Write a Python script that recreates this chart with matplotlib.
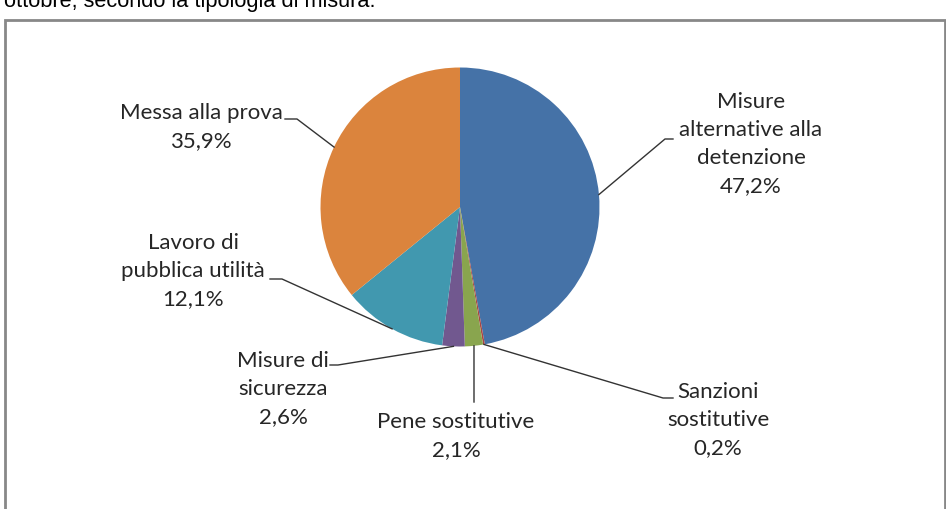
import matplotlib.pyplot as plt
import numpy as np

# data
labels = ["Misure\nalternative alla\ndetenzione", "Sanzioni\nsostitutive", "Pene sostitutive",
          "Misure di\nsicurezza", "Lavoro di\npubblica utilità", "Messa alla prova"]
values = [47.2, 0.2, 2.1, 2.6, 12.1, 35.9]
colors = ["#4572A7", "#AA4643", "#89A54E", "#71588F", "#4198AF", "#DB843D"]

W, H = 946, 509

def py(y):
    # pixel row (from top) -> data y
    return H - y

fig = plt.figure(figsize=(W / 100, H / 100), dpi=100)
ax = fig.add_axes([0, 0, 1, 1])

cx, cy, r = 460, 207, 139.5
wedges, _ = ax.pie(values, colors=colors, startangle=90, counterclock=False,
                   center=(cx, py(cy)), radius=r, frame=True)
ax.set_xlim(0, W)
ax.set_ylim(0, H)
ax.axis("off")

# label layout: (elbow point, end of horizontal tick, text center x, text center y)
layout = [
    ((665, 139), (673, 139), 751, 144),
    ((663, 398), (673, 398), 718, 420),
    ((474, 402), (474, 402), 456, 436),
    ((338, 365), (330, 365), 283, 389),
    ((282, 279), (270, 279), 193, 271),
    ((297, 119), (285, 119), 201, 127),
]

for w, lab, v, (elb, tick, tx, ty) in zip(wedges, labels, values, layout):
    mid = np.deg2rad((w.theta1 + w.theta2) / 2)
    ax_ = cx + r * np.cos(mid)
    ay_ = py(cy) + r * np.sin(mid)
    ax.plot([ax_, elb[0], tick[0]], [ay_, py(elb[1]), py(tick[1])],
            color="#333333", lw=1)
    txt = lab + "\n" + f"{v:.1f}%".replace(".", ",")
    ax.text(tx, py(ty), txt, ha="center", va="center", fontsize=16,
            family="Lato", color="#262626", linespacing=1.5)

# outer frame (cut at bottom)
ax.plot([5, 5, 945, 945], [0, py(20), py(20), 0], color="#888888", lw=2,
        solid_joinstyle="miter")

# cut-off title above the chart
ax.text(4, py(7), "ottobre, secondo la tipologia di misura.", ha="left",
        va="baseline", fontsize=15.7, family="Liberation Sans", color="black")

fig.savefig("out.png", dpi=100)
